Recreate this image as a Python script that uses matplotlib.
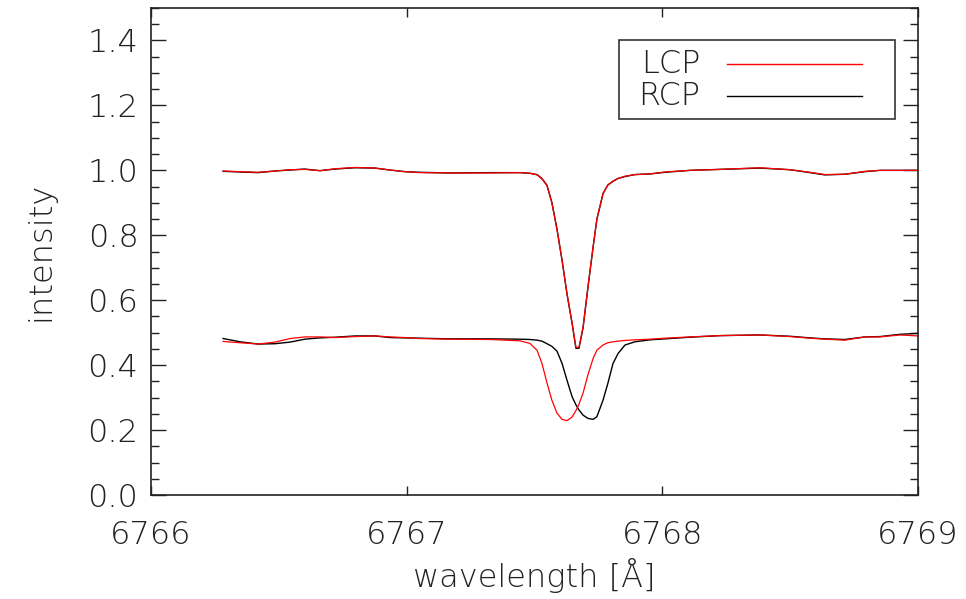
"""LCP / RCP intensity profiles around 6767.7 A"""
import matplotlib
matplotlib.use('Agg')
import matplotlib.pyplot as plt
from matplotlib.patches import Rectangle
from matplotlib.ticker import MultipleLocator

"""data read off the original plot"""
wavelength = [6766.282, 6766.348, 6766.419, 6766.485, 6766.544, 6766.602, 6766.661, 6766.720,
              6766.798, 6766.876, 6766.935, 6766.993, 6767.052, 6767.169, 6767.326, 6767.443,
              6767.482, 6767.510, 6767.529, 6767.549, 6767.568, 6767.588, 6767.608, 6767.627,
              6767.647, 6767.662, 6767.674, 6767.690, 6767.709, 6767.729, 6767.744, 6767.768,
              6767.787, 6767.807, 6767.827, 6767.854, 6767.893, 6767.952, 6768.010, 6768.108,
              6768.226, 6768.382, 6768.499, 6768.578, 6768.636, 6768.714, 6768.793, 6768.851,
              6768.930, 6769.000]

upper_lcp = [0.998, 0.996, 0.994, 0.998, 1.002, 1.003, 0.999, 1.005,
             1.009, 1.007, 1.001, 0.996, 0.993, 0.992, 0.992, 0.993,
             0.991, 0.986, 0.974, 0.953, 0.900, 0.818, 0.723, 0.621,
             0.530, 0.455, 0.455, 0.517, 0.640, 0.763, 0.850, 0.929,
             0.955, 0.967, 0.975, 0.982, 0.987, 0.989, 0.995, 1.000,
             1.003, 1.008, 1.002, 0.994, 0.987, 0.988, 0.997, 1.000,
             1.000, 1.000]

upper_rcp = [0.997, 0.995, 0.993, 0.998, 1.001, 1.004, 0.999, 1.004,
             1.008, 1.007, 1.001, 0.996, 0.994, 0.992, 0.993, 0.993,
             0.991, 0.987, 0.975, 0.954, 0.901, 0.819, 0.722, 0.620,
             0.529, 0.452, 0.452, 0.515, 0.639, 0.762, 0.849, 0.928,
             0.955, 0.966, 0.975, 0.981, 0.987, 0.989, 0.994, 1.000,
             1.003, 1.007, 1.002, 0.993, 0.986, 0.988, 0.996, 1.000,
             1.000, 1.000]

lower_lcp = [0.473, 0.469, 0.465, 0.471, 0.482, 0.487, 0.487, 0.485,
             0.488, 0.490, 0.487, 0.485, 0.482, 0.480, 0.479, 0.475,
             0.467, 0.446, 0.406, 0.345, 0.292, 0.252, 0.233, 0.229,
             0.240, 0.260, 0.280, 0.314, 0.370, 0.420, 0.446, 0.462,
             0.469, 0.472, 0.474, 0.476, 0.478, 0.480, 0.483, 0.487,
             0.491, 0.493, 0.488, 0.483, 0.480, 0.477, 0.487, 0.487,
             0.493, 0.490]

lower_rcp = [0.482, 0.472, 0.465, 0.466, 0.471, 0.480, 0.484, 0.486,
             0.490, 0.490, 0.485, 0.484, 0.483, 0.481, 0.481, 0.480,
             0.479, 0.477, 0.474, 0.466, 0.458, 0.443, 0.405, 0.354,
             0.303, 0.278, 0.262, 0.246, 0.236, 0.233, 0.241, 0.292,
             0.344, 0.405, 0.436, 0.462, 0.472, 0.478, 0.481, 0.486,
             0.491, 0.493, 0.489, 0.484, 0.481, 0.479, 0.487, 0.488,
             0.495, 0.498]

legend_labels = ['LCP', 'RCP']
legend_colors = ['red', 'black']

"""figure"""
txt = '#222222'
font = dict(family=['DejaVu Sans'], fontweight='light', color=txt)
fig = plt.figure(figsize=(9.66, 5.99), dpi=100, facecolor='white')
ax = fig.add_axes([0.1563, 0.1736, 0.9503 - 0.1563, 0.9866 - 0.1736])

ax.plot(wavelength, upper_rcp, color='black', linewidth=1.0)
ax.plot(wavelength, lower_rcp, color='black', linewidth=1.0)
ax.plot(wavelength, upper_lcp, color='red', linewidth=0.9)
ax.plot(wavelength, lower_lcp, color='red', linewidth=0.9)

ax.set_xlim(6766, 6769)
ax.set_ylim(0.0, 1.5)

"""IDL-like ticks on all sides"""
ax.yaxis.set_minor_locator(MultipleLocator(0.05))
ax.tick_params(axis='both', which='both', direction='in', top=True, right=True, color='#222222')
ax.tick_params(axis='y', which='major', length=10.8, width=1.0, pad=9)
ax.tick_params(axis='y', which='minor', length=5.5, width=1.0)
ax.tick_params(axis='x', which='major', length=6.5, width=1.0, pad=18)
ax.set_xticks([6766, 6767, 6768, 6769])
ax.set_xticklabels(['6766', '6767', '6768', '6769'], **font, fontsize=23)
ax.set_yticks([0.0, 0.2, 0.4, 0.6, 0.8, 1.0, 1.2, 1.4])
ax.set_yticklabels(['%.1f' % v for v in [0.0, 0.2, 0.4, 0.6, 0.8, 1.0, 1.2, 1.4]], **font, fontsize=23)
for sp in ax.spines.values():
    sp.set_linewidth(1.2)
    sp.set_color('#222222')

ax.set_xlabel('wavelength [Å]', **font, fontsize=23, labelpad=6)
ax.set_ylabel('intensity', **font, fontsize=23, labelpad=23)

"""legend box drawn by hand, labels left of the lines"""
ax.add_patch(Rectangle((0.6102, 0.772), 0.3598, 0.162, transform=ax.transAxes,
                       fill=False, edgecolor='#333333', linewidth=1.2))
for i, (lab, col) in enumerate(zip(legend_labels, legend_colors)):
    yy = 0.8856 - i * 0.0657
    ax.plot([0.7510, 0.9270], [yy, yy], transform=ax.transAxes, color=col, linewidth=1.0)
    ax.text(0.7160, yy, lab, transform=ax.transAxes, ha='right', va='center', **font, fontsize=23)

plt.savefig('out.png', dpi=100)
